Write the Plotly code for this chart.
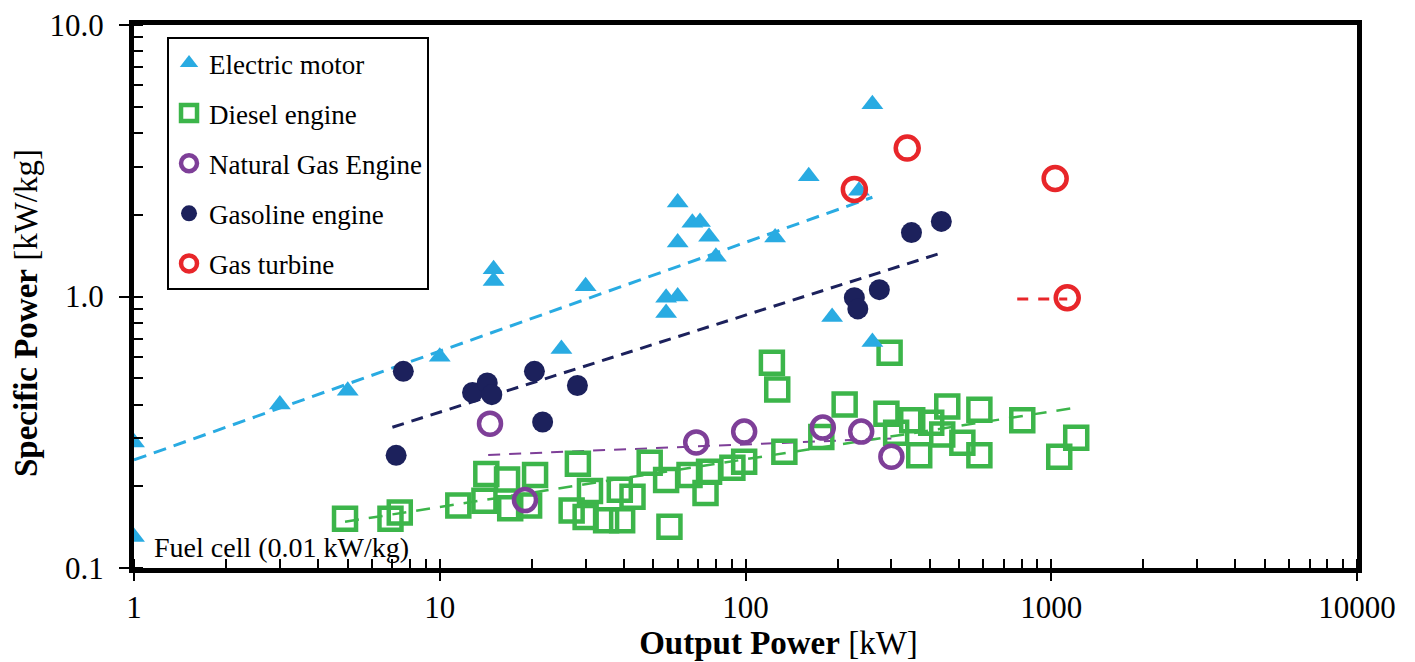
import plotly.graph_objects as go

# ---------------- data ----------------
em_x = [1, 1, 3, 5, 10, 15, 15, 25, 30, 55, 55, 60, 60, 60, 67, 71, 76, 80, 125, 161, 192, 235, 260, 260]
em_y = [0.29, 0.13, 0.40, 0.45, 0.60, 1.26, 1.14, 0.64, 1.09, 0.99, 0.87, 1.0, 2.22, 1.58, 1.87, 1.88, 1.66, 1.40, 1.65, 2.77, 0.84, 2.45, 5.11, 0.68]

diesel_x = [4.9, 6.9, 7.4, 11.5, 14.0, 14.2, 16.6, 17.0, 20.5, 19.6, 28.3, 27.0, 31.0, 30.0, 35.0,
            38.8, 39.5, 42.7, 48.6, 56.4, 55.0, 65.6, 74.0, 76.0, 90.6, 99.0, 122, 127, 134, 177,
            211, 296, 289, 311, 351, 370, 405, 440, 457, 512, 582, 582, 804, 1062, 1207]
diesel_y = [0.152, 0.152, 0.160, 0.170, 0.177, 0.222, 0.212, 0.166, 0.220, 0.170, 0.242, 0.163, 0.192, 0.154, 0.150,
            0.194, 0.150, 0.183, 0.244, 0.142, 0.211, 0.220, 0.189, 0.226, 0.234, 0.246, 0.57, 0.454, 0.268, 0.304,
            0.40, 0.62, 0.37, 0.315, 0.35, 0.26, 0.343, 0.31, 0.393, 0.289, 0.383, 0.26, 0.35, 0.257, 0.302]

ng_x = [14.6, 19, 69, 99, 179, 239, 300]
ng_y = [0.34, 0.178, 0.29, 0.318, 0.329, 0.318, 0.257]

gas_x = [7.6, 7.2, 12.8, 14.3, 14.8, 20.4, 21.7, 28.2, 227, 233, 274, 349, 437]
gas_y = [0.53, 0.26, 0.443, 0.48, 0.435, 0.53, 0.345, 0.47, 0.99, 0.90, 1.06, 1.72, 1.89]

gt_x = [227, 338, 1030, 1128]
gt_y = [2.48, 3.52, 2.72, 0.99]

# trend line end points
em_trend_x = [1, 260]
em_trend_y = [0.25, 2.32]
gas_trend_x = [7.0, 440]
gas_trend_y = [0.33, 1.45]
ng_trend_x = [14.4, 300]
ng_trend_y = [0.261, 0.30]
diesel_trend_x = [4.9, 1210]
diesel_trend_y = [0.148, 0.39]
gt_trend_x = [774, 1128]
gt_trend_y = [0.98, 0.98]

x_ticks = [1, 10, 100, 1000, 10000]
x_tick_text = ["1", "10", "100", "1000", "10000"]
y_ticks = [0.1, 1, 10]
y_tick_text = ["0.1", "1.0", "10.0"]

# ---------------- styles ----------------
C_EM = "#29ABE2"
C_DI = "#3CB54A"
C_NG = "#7E3F98"
C_GA = "#1C215C"
C_GT = "#E8262A"
FONT = "Liberation Serif"

fig = go.Figure()

# trend lines
for tx, ty, col, w, dash in [
    (em_trend_x, em_trend_y, C_EM, 3, "13px,8px"),
    (gas_trend_x, gas_trend_y, C_GA, 3, "12px,8px"),
    (ng_trend_x, ng_trend_y, C_NG, 2, "12px,9px"),
    (diesel_trend_x, diesel_trend_y, C_DI, 2.5, "14px,10px"),
    (gt_trend_x, gt_trend_y, C_GT, 3, "11px,10px"),
]:
    fig.add_trace(go.Scatter(x=tx, y=ty, mode="lines", showlegend=False, hoverinfo="skip",
                             line=dict(color=col, width=w, dash=dash)))

fig.add_trace(go.Scatter(x=diesel_x, y=diesel_y, mode="markers", name="Diesel engine",
                         legendgroup="d", legendrank=2,
                         marker=dict(symbol="square-open", size=22, color=C_DI, line=dict(width=4.5, color=C_DI))))
fig.add_trace(go.Scatter(x=ng_x, y=ng_y, mode="markers", name="Natural Gas Engine",
                         legendgroup="n", legendrank=3,
                         marker=dict(symbol="circle-open", size=22, color=C_NG, line=dict(width=4.5, color=C_NG))))
fig.add_trace(go.Scatter(x=em_x, y=em_y, mode="markers", name="Electric motor",
                         legendgroup="e", legendrank=1,
                         marker=dict(symbol="triangle-up", size=19, color=C_EM)))
fig.add_trace(go.Scatter(x=gas_x, y=gas_y, mode="markers", name="Gasoline engine",
                         legendgroup="g", legendrank=4,
                         marker=dict(symbol="circle", size=21, color=C_GA)))
fig.add_trace(go.Scatter(x=gt_x, y=gt_y, mode="markers", name="Gas turbine",
                         legendgroup="t", legendrank=5,
                         marker=dict(symbol="circle-open", size=23, color=C_GT, line=dict(width=4.5, color=C_GT))))

fig.add_annotation(x=0.06, y=-0.926, xref="x", yref="y", text="Fuel cell (0.01 kW/kg)",
                   showarrow=False, xanchor="left", yanchor="middle",
                   font=dict(family=FONT, size=28, color="black"))

# The page body has an 8px margin, so margins are set to land the plot area
# at the reference position in the screenshot.
fig.update_layout(
    width=1415, height=662,
    margin=dict(l=126, r=66, t=17, b=102, autoexpand=False),
    paper_bgcolor="white", plot_bgcolor="white",
    font=dict(family=FONT, color="black", size=27),
    legend=dict(x=0.027, y=0.978, xanchor="left", yanchor="top",
                bordercolor="black", borderwidth=2, bgcolor="white",
                font=dict(family=FONT, size=27, color="black"),
                tracegroupgap=12, itemsizing="trace"),
)

fig.update_xaxes(type="log", range=[0, 4], tickvals=x_ticks, ticktext=x_tick_text,
                 automargin=False,
                 showgrid=False, zeroline=False,
                 showline=True, linecolor="black", linewidth=5, mirror=True,
                 ticks="outside", ticklen=8, tickwidth=2, tickcolor="black",
                 ticklabelstandoff=0, ticklabeloverflow="allow",
                 minor=dict(ticks="inside", ticklen=9, tickwidth=1.5, tickcolor="black", dtick="D1", showgrid=False),
                 tickfont=dict(family=FONT, size=31),
                 title=dict(text="\u200b\u2003\u2003<b>Output Power</b> [kW]", font=dict(family=FONT, size=33), standoff=2))
fig.update_yaxes(type="log", range=[-1, 1], tickvals=y_ticks, ticktext=y_tick_text,
                 automargin=False,
                 showgrid=False, zeroline=False,
                 showline=True, linecolor="black", linewidth=5, mirror=True,
                 ticks="outside", ticklen=10, tickwidth=2, tickcolor="black",
                 ticklabelstandoff=9, ticklabeloverflow="allow",
                 minor=dict(ticks="inside", ticklen=9, tickwidth=1.5, tickcolor="black", dtick="D1", showgrid=False),
                 tickfont=dict(family=FONT, size=31),
                 title=dict(text="<b>Specific Power</b> [kW/kg]\u2002\u2002\u200b", font=dict(family=FONT, size=33), standoff=10))

fig.write_html("out.html")
